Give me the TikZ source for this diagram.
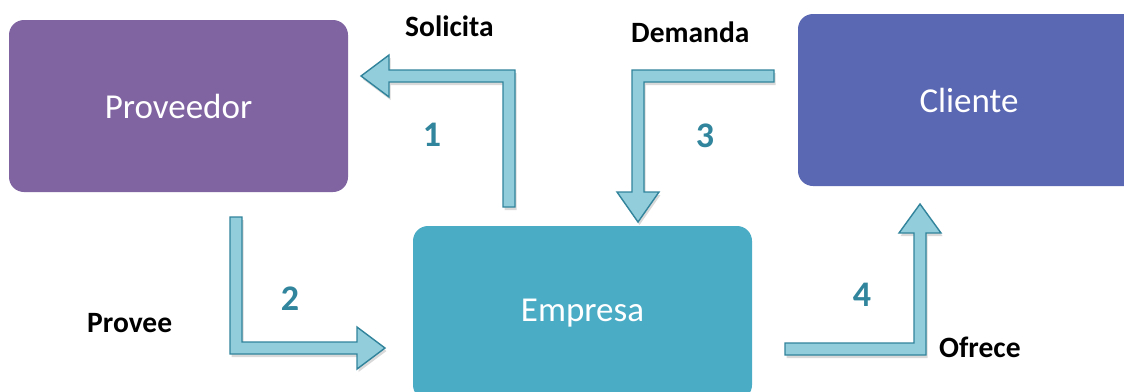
\documentclass[tikz,border=0pt]{standalone}
\usepackage{fontspec}
\setmainfont{Carlito}
\usetikzlibrary{shadows}
\definecolor{provc}{HTML}{8064A2}
\definecolor{clic}{HTML}{5A67B2}
\definecolor{empc}{HTML}{4BACC6}
\definecolor{arrfill}{HTML}{92CDDC}
\definecolor{arrline}{HTML}{31849B}
\definecolor{numc}{HTML}{31859C}
\tikzset{
  box/.style={draw=none, rounded corners=15pt, inner sep=0pt, text=white, font=\fontsize{35}{40}\selectfont},
  bentarrow/.style={fill=arrfill, draw=arrline, line width=1.4pt, line join=miter,
    drop shadow={shadow xshift=1.5pt, shadow yshift=-3pt, opacity=0.15, fill=black}},
  lbl/.style={font=\bfseries\fontsize{29.5}{32}\selectfont, text=black, inner sep=0pt, anchor=base west},
  num/.style={font=\bfseries\fontsize{36}{40}\selectfont, text=numc, inner sep=0pt, anchor=base},
}
\begin{document}
\begin{tikzpicture}[x=1pt,y=-1pt]
\useasboundingbox (0,0) rectangle (1124,391);
\clip (0,0) rectangle (1124,391);
\fill[white] (0,0) rectangle (1124,391);
% boxes
\fill[provc, rounded corners=15pt] (9,20) rectangle (348,192);
\node[box] (prov) at (178.5,106) {Proveedor};
\fill[clic, rounded corners=15pt] (798,14) rectangle (1140,186);
\node[box] (cli) at (969,100) {Cliente};
\fill[empc, rounded corners=15pt] (413,226) rectangle (752,400);
\node[box] (emp) at (582.5,313) {Empresa};
% arrows
\coordinate (a1s) at (509,207);
\coordinate (a1t) at (361,76);
\draw[bentarrow] (503,207) -- (503,82) -- (389,82) -- (389,97) -- (a1t) -- (389,55) -- (389,70) -- (515,70) -- (515,207) -- cycle;
\coordinate (a3s) at (774,76);
\coordinate (a3t) at (638,222);
\draw[bentarrow] (774,70) -- (632,70) -- (632,192) -- (617,192) -- (a3t) -- (659,192) -- (644,192) -- (644,82) -- (774,82) -- cycle;
\coordinate (a2s) at (236,217);
\coordinate (a2t) at (385,348);
\draw[bentarrow] (230,217) -- (230,354) -- (357,354) -- (357,369) -- (a2t) -- (357,327) -- (357,342) -- (242,342) -- (242,217) -- cycle;
\coordinate (a4s) at (785,349);
\coordinate (a4t) at (920,204);
\draw[bentarrow] (785,343) -- (785,355) -- (926,355) -- (926,233) -- (941,233) -- (a4t) -- (899,233) -- (914,233) -- (914,343) -- cycle;
% labels
\node[lbl] (lsol) at (405,36) {Solicita};
\node[lbl] (ldem) at (631,42) {Demanda};
\node[lbl] (lpro) at (87,332) {Provee};
\node[lbl] (lofr) at (939,357) {Ofrece};
% numbers
\node[num] (n1) at (432,146) {1};
\node[num] (n3) at (705,147) {3};
\node[num] (n2) at (290,310) {2};
\node[num] (n4) at (862,306) {4};
\end{tikzpicture}
\end{document}
